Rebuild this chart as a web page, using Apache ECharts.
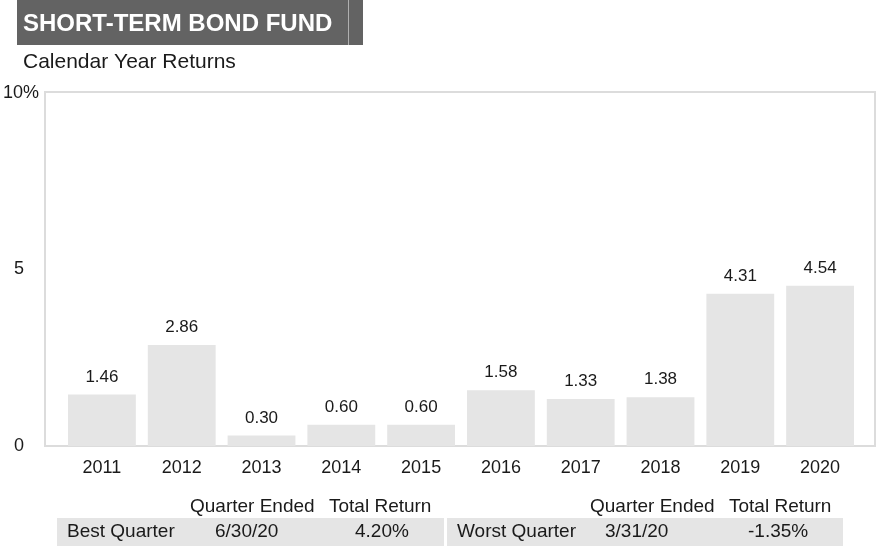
<!DOCTYPE html>
<html>
<head>
<meta charset="utf-8">
<script src="https://cdn.jsdelivr.net/npm/echarts@6/dist/echarts.min.js"></script>
<style>html,body{margin:0;padding:0;background:#fff}#c{width:878px;height:546px}</style>
</head>
<body>
<div id="c"></div>
<script>
const title = 'SHORT-TERM BOND FUND';
const subtitle = 'Calendar Year Returns';
const years = ['2011','2012','2013','2014','2015','2016','2017','2018','2019','2020'];
const returns = [1.46, 2.86, 0.30, 0.60, 0.60, 1.58, 1.33, 1.38, 4.31, 4.54];
const yTicks = [0, 5, 10];
const tableHeaders = ['Quarter Ended', 'Total Return'];
const bestQuarter = ['Best Quarter', '6/30/20', '4.20%'];
const worstQuarter = ['Worst Quarter', '3/31/20', '-1.35%'];

const FONT = '"Liberation Sans", Arial, Helvetica, sans-serif';
const TXT = '#1a1a1a';
const chart = echarts.init(document.getElementById('c'), null, {renderer: 'canvas'});

function txt(x, y, s, size, extra) {
  return Object.assign({type: 'text', left: x, top: y, style: {text: s, fill: TXT, font: size + 'px ' + FONT}}, extra || {});
}

chart.setOption({
  animation: false,
  backgroundColor: '#fff',
  grid: {left: 61, right: 18, top: 93, bottom: 100},
  xAxis: {
    type: 'category', data: years,
    axisLine: {show: false}, axisTick: {show: false},
    axisLabel: {color: TXT, fontSize: 18, fontFamily: FONT, margin: 13}
  },
  yAxis: {
    type: 'value', min: 0, max: 10, interval: 5,
    splitLine: {show: false}, axisLine: {show: false}, axisTick: {show: false},
    axisLabel: {
      color: TXT, fontSize: 18, fontFamily: FONT, margin: 23, align: 'right',
      formatter: v => v === 10 ? '10%' : v + '{s| }',
      rich: {s: {width: 15, fontSize: 18}}
    }
  },
  graphic: [
    {type: 'rect', shape: {x: 45, y: 92, width: 830, height: 354}, style: {fill: 'none', stroke: '#dcdcdc', lineWidth: 2}, z: -1},
    {type: 'rect', shape: {x: 17, y: 0, width: 346, height: 45}, style: {fill: '#636363'}},
    {type: 'line', shape: {x1: 348.5, y1: 0, x2: 348.5, y2: 45}, style: {stroke: '#b0b0b0', lineWidth: 1}},
    {type: 'text', left: 23, top: 12, style: {text: title, fill: '#fff', font: 'bold 24px ' + FONT}},
    txt(23, 52, subtitle, 21),
    {type: 'rect', shape: {x: 57, y: 518, width: 387, height: 28}, style: {fill: '#e5e5e5'}},
    {type: 'rect', shape: {x: 447, y: 518, width: 396, height: 28}, style: {fill: '#e5e5e5'}},
    txt(190, 497, tableHeaders[0], 19),
    txt(329, 497, tableHeaders[1], 19),
    txt(590, 497, tableHeaders[0], 19),
    txt(729, 497, tableHeaders[1], 19),
    txt(67, 522, bestQuarter[0], 19),
    txt(215, 522, bestQuarter[1], 19),
    txt(355, 522, bestQuarter[2], 19),
    txt(457, 522, worstQuarter[0], 19),
    txt(605, 522, worstQuarter[1], 19),
    txt(748, 522, worstQuarter[2], 19)
  ],
  series: [{
    type: 'bar', data: returns, barCategoryGap: '15%',
    itemStyle: {color: '#e5e5e5'},
    label: {show: true, position: 'top', distance: 9, color: TXT, fontSize: 17, fontFamily: FONT,
      formatter: p => p.value.toFixed(2)}
  }]
});
</script>
</body>
</html>
